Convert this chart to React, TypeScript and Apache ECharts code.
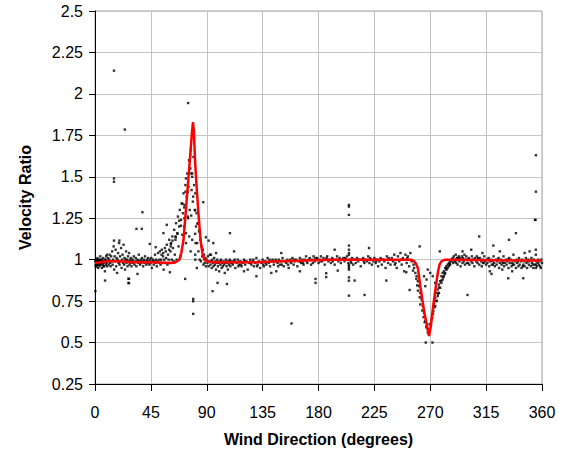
import React, { useEffect, useRef } from "react";
import * as echarts from "echarts";

const xTicks = [0, 45, 90, 135, 180, 225, 270, 315, 360];
const yTicks = [0.25, 0.5, 0.75, 1, 1.25, 1.5, 1.75, 2, 2.25, 2.5];

const fitX = [0, 5, 10, 20, 30, 40, 50, 60, 64, 66, 68, 69.5, 71.3, 73, 75, 76.6, 78, 78.9, 79.6, 80.7, 82, 83.5, 85, 86.5, 88, 90, 95, 110, 130, 150, 170, 190, 220, 250, 254.7, 257, 258.5, 260, 262, 264, 265.5, 267.5, 269, 270.5, 272.2, 274, 275.5, 276.3, 277.5, 279, 282, 290, 320, 340, 360];
const fitY = [0.98, 0.985, 0.99, 0.99, 0.985, 0.985, 0.985, 0.98, 0.982, 0.99, 1.0, 1.04, 1.12, 1.28, 1.47, 1.62, 1.76, 1.83, 1.78, 1.58, 1.42, 1.26, 1.12, 1.04, 1.0, 0.99, 0.985, 0.985, 0.985, 0.99, 0.995, 1.0, 1.0, 1.0, 1.0, 0.99, 0.975, 0.95, 0.84, 0.74, 0.67, 0.6, 0.54, 0.6, 0.71, 0.81, 0.89, 0.93, 0.97, 0.99, 1.0, 1.0, 0.997, 0.995, 0.995];

const bandA: number[][] = [
  [0.5,0.97],[0.8,1.0],[1,0.98],[1.3,0.96],[1.6,0.99],[2,1.01],[2.2,0.97],[2.5,0.95],[2.8,0.99],[3,0.98],[3.3,1.0],[3.6,0.96],[4,0.99],[4.3,1.02],[4.6,0.97],[5,0.98],[5.3,1.0],[5.6,0.95],[6,0.99],[6.3,0.97],[6.6,1.01],[7,0.98],[7.4,0.96],[7.8,1.0],[8,0.93],[8.3,0.99],[8.7,0.97],[9,1.02],[9.4,0.98],[9.8,0.96],
  [0.2,0.99],[0.6,0.96],[1.1,1.0],[1.8,0.97],[2.6,1.0],[3.8,0.97],[4.8,1.0],[5.8,0.98],[6.8,0.96],[7.6,0.99],[8.9,1.0],[9.6,1.03],
  [10.2,0.99],[10.6,1.01],[11,0.97],[11.4,1.0],[11.8,1.03],[12.2,0.98],[12.6,0.96],[13,1.02],[13.4,0.99],[13.8,1.05],[14.2,0.97],[14.6,1.0],[15,1.08],[15.4,0.94],[15.8,1.02],[16.2,0.99],[16.6,1.06],[17,0.96],[17.4,1.01],[17.8,0.92],[18.2,1.0],[18.6,1.04],[19,0.98],[19.4,1.1],[19.8,0.97],[20.2,1.02],[20.6,0.99],[21,1.07],[21.4,0.95],[21.8,1.0],[22.2,1.03],[22.6,0.98],[23,1.09],[23.4,0.97],[23.8,1.01],[24.2,0.94],[24.6,1.0],[25,1.05],[25.4,0.98],[25.8,1.0],[26.2,0.96],[26.6,1.02],[27,0.99],[27.4,1.04],[27.8,0.97],[28.2,1.0],[28.6,0.98],[29,1.01],[29.4,0.96],[29.8,0.99],
  [30.3,1.0],[30.8,0.98],[31.3,1.02],[31.8,0.97],[32.3,0.99],[32.8,1.01],[33.3,0.96],[33.8,0.99],[34.3,1.0],[34.8,0.98],[35.3,1.03],[35.8,0.99],[36.3,0.97],[36.8,1.0],[37.3,0.98],[37.8,1.01],[38.3,0.99],[38.8,0.96],[39.3,1.0],[39.8,0.98],[40.3,1.02],[40.8,0.99],[41.3,0.97],[41.8,1.0],[42.3,0.98],[42.8,1.01],[43.3,0.99],[43.8,0.97],[44.3,1.0],[44.8,0.98],[45.3,1.01],[45.8,0.95],[46.3,0.99],[46.8,1.0],[47.3,0.97],[47.8,0.99],[48.3,1.03],[48.8,0.98],[49.3,1.0],[49.8,0.96],[50.3,0.99],[50.8,1.04],[51.3,0.98],[51.8,1.0],[52.3,1.05],[52.8,0.97],[53.3,1.0],[53.8,1.06],[54.3,0.98],[54.8,1.02],[55.3,0.94],[55.8,1.0],[56.3,1.07],[56.8,0.98],[57.3,1.01],[57.8,1.09],[58.3,0.97],[58.8,1.03],[59.3,1.0],[59.8,1.12],
  [60.3,0.98],[60.8,1.05],[61.3,1.1],[61.8,1.0],[62.3,1.14],[62.8,1.07],[63.3,0.99],[63.8,1.18],[64.3,1.03],[64.8,1.12],[65.3,1.22],[65.8,1.0],[66.3,1.16],[66.8,1.26],[67.3,1.08],[67.8,1.2],[68.3,1.3],[68.8,1.02],[69.3,1.24],[69.8,1.34],[70.3,1.15],[70.8,1.28],[71.3,1.4],[71.8,1.2],[72.3,1.33],[72.8,1.45],[73.3,1.1],[73.8,1.38],[74.3,1.52],[74.8,1.26],[75.3,1.44],[75.8,1.6],[76.3,1.3],[76.8,1.55],[77.3,1.66],[77.8,1.42],[78.3,1.5],[78.8,1.35],[79.3,1.62],[79.8,1.45],[80.3,1.3],[80.8,1.4],[81.3,1.2],[81.8,1.28],[82.3,1.1],[82.8,1.22],[83.3,1.05],[83.8,1.17],[84.3,1.0],[84.8,1.12],[85.3,0.99],[85.8,1.08],[86.3,1.02],[86.8,1.06],[87.3,0.97],[87.8,1.03],[88.3,0.98],[88.8,1.01],[89.3,0.96],[89.8,1.0],
  [77,1.05],[80.8,1.0],[82,0.95],[78.3,1.12],[75.9,1.14],[73.3,1.16],[81,1.1],[80.7,1.03]
];

const bandB: number[][] = [
  [90.5,0.98],[91,1.02],[91.5,0.96],[92,0.99],[92.5,1.03],[93,0.97],[93.5,0.99],[94,0.95],[94.5,1.0],[95,0.98],[95.5,0.96],[96,1.01],[96.5,0.97],[97,0.99],[97.5,0.94],[98,0.98],[98.5,1.0],[99,0.96],[99.5,0.98],[100,0.93],[100.5,0.99],[101,0.97],[101.5,1.0],[102,0.95],[102.5,0.98],[103,0.96],[103.5,0.99],[104,0.97],[104.5,0.92],[105,0.98],[105.5,1.0],[106,0.96],[106.5,0.98],[107,0.94],[107.5,0.99],[108,0.97],[108.5,1.0],[109,0.96],[109.5,0.98],[110,0.99],
  [111,0.97],[112,0.99],[113,0.95],[114,0.98],[115,1.0],[116,0.97],[117,0.99],[118,0.96],[119,0.98],[120,1.0],[121,0.97],[122,0.99],[123,0.94],[124,0.98],[125,1.0],[126,0.97],[127,0.99],[128,0.96],[129,0.98],[130,1.01],[131,0.97],[132,0.99],[133,0.95],[134,0.98],[135,1.0],[136,0.96],[137,0.99],[138,0.97],[139,1.01],[140,0.98],[141,0.96],[142,0.99],[143,1.0],[144,0.97],[145,0.99],[146,0.93],[147,0.98],[148,1.0],[149,0.97],[150,0.99],[151,1.01],[152,0.96],[153,0.99],[154,0.98],[155,1.0],[156,0.95],[157,0.99],[158,0.98],[159,1.01],[160,0.97],[161,0.99],[162,1.0],[163,0.96],[164,0.99],[165,1.01],[166,0.98],[167,1.0],[168,0.97],[169,1.0],[170,1.02],[171,0.98],[172,1.0],[173,1.01],[174,0.97],[175,1.0],[176,1.02],[177,0.99],[178,1.0],[179,1.01],[180,0.98],
  [110.5,0.98],[115.5,0.96],[120.5,0.99],[125.5,0.98],[130.5,0.96],[135.5,0.97],[140.5,1.0],[145.5,1.0],[150.5,0.97],[155.5,0.97],[160.5,1.0],[165.5,0.99],[170.5,0.99],[175.5,0.98],[112.5,1.0],[117.5,0.97],[127.5,1.0],[137.5,0.98],[147.5,0.96],[157.5,1.0],[167.5,0.98],[177.5,1.01],
  [181,1.0],[182,1.02],[183,0.99],[184,1.01],[185,0.97],[186,1.0],[187,1.02],[188,0.99],[189,1.0],[190,0.98],[191,1.01],[192,1.0],[193,0.97],[194,1.0],[195,1.02],[196,0.99],[197,1.01],[198,0.98],[199,1.0],[200,1.01],[201,0.99],[202,1.0],[203,1.02],[204,0.98],[204.5,0.96],[204.5,0.95],[204.5,0.97],[204.5,0.94],[204.5,1.03],[205,1.0],[206,0.99],[207,1.01],[208,0.97],[209,1.0],[210,0.98],[211,1.01],[212,0.99],[213,1.0],[214,0.96],[215,1.0],[216,1.01],[217,0.98],[218,1.0],[219,0.99],[220,1.02],[221,0.98],[222,1.0],[223,0.97],[224,0.99],[225,1.01],[226,0.98],[227,1.0],[228,0.96],[229,0.99],[230,1.01],[231,0.97],[232,1.0],[233,0.99],[234,0.95],[235,1.02],[236,0.98],[237,1.0],[238,0.97],[239,1.01],[240,0.99],[241,1.03],[242,0.98],[243,0.95],[244,1.02],[245,0.99],[246,1.04],[247,0.97],[248,1.01],[249,0.93],[250,1.03],[251,0.98],[252,1.02],[253,0.96],[254,1.04],[255,0.99],
  [181.5,0.99],[186.5,1.01],[191.5,0.99],[196.5,1.0],[201.5,1.01],[206.5,0.98],[211.5,1.0],[216.5,0.99],[221.5,1.01],[226.5,0.99],[231.5,1.0],[236.5,1.01],[241.5,0.97],[246.5,1.0],[251.5,1.01]
];

const bandC: number[][] = [
  [256.5,0.97],[257,0.95],[258,0.92],[259,0.9],[260,0.87],[261,0.84],[262,0.8],[263,0.76],[264,0.72],[265,0.68],[266,0.63],[267,0.6],[268,0.56],[269.5,0.57],[270.5,0.6],[271.5,0.65],[272.5,0.69],[273,0.73],[274,0.77],[275,0.8],[276,0.82],[277,0.85],[278,0.87],[279,0.9],[280,0.92],[281,0.93],[282,0.95],[283,0.96],[284,0.97],[285,0.98],[286,0.99],[287,1.0],
  [274,0.72],[275,0.75],[276,0.78],[277,0.8],[278,0.83],[279,0.86],[280,0.88],[281,0.9],[282,0.92],[283,0.94],[284,0.95],[285,0.96],[286,0.97],
  [265,0.9],[267,0.88],[270,0.92],[272,0.9],[274,0.86],[268,0.94],[266,0.84],
  [253.4,0.817],[250.7,0.924],[256.1,0.934],[258.8,0.884],[259.5,0.845],[260.1,0.813],[261.5,0.773],[262,0.73],[263.6,0.693],[264.7,0.653],[265.5,0.623],[266.8,0.592],[268.2,0.58],[266.4,0.5],[271.8,0.5],[269.5,0.612],[271.1,0.64],[272.2,0.673],[273.5,0.713],[275,0.753],[276.3,0.793],[277.1,0.833],[279,0.874],[280.4,0.894],[281.7,0.914],[283,0.944],[285.7,0.974],[287.1,0.99],
  [288,1.01],[288.5,0.98],[289,1.02],[289.5,0.99],[290,1.0],[290.5,1.03],[291,0.98],[291.5,1.01],[292,0.97],[292.5,1.0],[293,1.02],[293.5,0.99],[294,1.01],[294.5,0.96],[295,1.0],[295.5,1.02],[296,0.98],[296.5,1.01],[297,0.99],[297.5,1.03],[298,0.97],[298.5,1.0],[299,1.02],[299.5,0.98],[300,1.0],[301,1.01],[301.5,0.97],[302,1.0],[303,0.99],[303.5,1.02],[304,0.98],[305,1.0],[305.5,0.96],[306,1.01],[307,0.99],[307.5,1.02],[308,0.98],[309,1.0],[309.5,0.97],[310,1.01],[311,0.99],[311.5,0.96],[312,1.0],[313,0.98],[313.5,1.02],[314,0.99],[315,0.97],[315.5,1.0],[316,0.98],[317,1.01],[317.5,0.96],[318,0.99],[319,1.0],[319.5,0.97],[320,0.99],[321,1.02],[321.5,0.98],[322,0.96],[323,1.0],[323.5,0.97],[324,0.99],[325,1.01],[325.5,0.95],[326,0.98],[327,1.0],[327.5,0.97],[328,0.99],[329,1.02],[329.5,0.96],[330,0.98],[331,1.0],[331.5,0.97],[332,0.99],[333,0.95],[333.5,1.01],[334,0.98],[335,1.0],[335.5,0.96],[336,0.98],[337,1.03],[337.5,0.97],[338,0.99],[339,0.95],[339.5,1.0],[340,0.98],[341,0.96],[341.5,1.01],[342,0.97],[343,0.99],[343.5,0.95],[344,1.0],[345,0.97],[345.5,0.99],[346,0.96],[347,1.01],[347.5,0.98],[348,0.95],[349,1.0],[349.5,0.97],[350,0.99],[351,0.96],[351.5,1.01],[352,0.98],[353,0.95],[353.5,1.0],[354,0.97],[355,1.06],[355,1.03],[355,0.97],[355,0.95],[355.5,0.99],[356,0.96],[357,1.0],[357.5,0.97],[358,0.99],[359,0.95],[359.5,1.0],[360,0.98],
  [290.2,0.99],[292.2,1.01],[296.2,1.0],[300.5,0.98],[304.5,1.0],[308.5,1.01],[312.5,0.98],[316.5,1.0],[320.5,0.97],[324.5,1.0],[328.5,0.98],[332.5,1.0],[336.5,0.97],[340.5,0.99],[344.5,0.96],[348.5,0.99],[352.5,0.97],[356.5,0.98],[358.5,0.96]
];

const outliers: number[][] = [
  [0.3,0.81],[8.1,0.874],[26.9,0.86],[26.9,0.885],[38.2,1.286],[33.4,1.186],[37.7,1.186],[15.3,1.115],[19.6,1.115],[57.8,1.21],[55.1,1.16],[44.1,1.095],[48.9,1.075],
  [15.3,2.14],[24,1.785],[15.3,1.49],[15.3,1.47],[75,1.945],[87.2,1.347],[108.7,1.16],[79.1,0.763],[79.1,0.749],[79.1,0.673],[72.6,0.884],[94.7,0.81],[98.7,0.86],[106.2,0.853],
  [27.4,0.884],[27.4,0.858],[34.2,0.914],[60.3,0.924],
  [76.7,1.63],[75.9,1.6],[77.5,1.52],[78.3,1.52],[73.2,1.49],[74.8,1.41],[72.9,1.41],[79.1,1.38],[70.5,1.336],[71.8,1.315],[80.7,1.297],[77.5,1.266],[72,1.25],[75,1.25],[82.6,1.216],[80.7,1.156],[84,1.176],[69.2,1.205],[66.5,1.156],[64.8,1.14],[62.4,1.115],[61,1.08],[59.7,1.06],[57,1.05],[55,1.04],[53.6,1.03],
  [89.3,1.135],[91.5,1.115],[95.3,1.1],[97.5,1.04],[93.4,1.03],[67.8,1.235],[65.1,1.135],[61,1.095],
  [204.5,1.33],[204.5,1.32],[204.5,1.27],[204.5,1.085],[204.5,1.06],[204.5,1.04],[204.5,0.893],[204.5,0.873],[204.5,0.783],
  [177.6,0.884],[177.6,0.86],[186.2,0.918],[186.2,0.895],[217.1,0.787],[234.6,0.874],[220.7,1.07],[193,1.06],[209.1,0.874],[195.5,0.934],[158.3,0.615],
  [130,0.9],[142,0.92],[120,0.93],[165,0.93],[150,1.04],[112,1.05],
  [261.5,1.08],[277.7,1.05],[300,0.787],[309.4,1.14],[320.8,1.085],[333.4,1.12],[339,1.16],[355.1,1.41],[354.3,1.24],[354.8,1.24],[355.1,1.63],[344.9,0.888],[332.8,0.888],[319.3,0.914],
  [296,1.05],[303,1.06],[312,1.04],[326,1.05],[346,1.04],[350,1.05],[318,0.93],[336,0.93],[328,0.94]
];

const App: React.FC = () => {
  const ref = useRef<HTMLDivElement>(null);
  useEffect(() => {
    if (!ref.current) return;
    const chart = echarts.init(ref.current, undefined, { renderer: "svg" });
    const font = "'Liberation Sans', Arial, sans-serif";
    const scatterData = [...bandA, ...bandB, ...bandC, ...outliers];
    const lineData = fitX.map((x, i) => [x, fitY[i]]);
    chart.setOption({
      animation: false,
      backgroundColor: "#ffffff",
      grid: {
        left: 95,
        right: 25,
        top: 11,
        bottom: 71,
        show: true,
        borderColor: "#a6a6a6",
        borderWidth: 1,
      },
      xAxis: {
        type: "value",
        min: xTicks[0],
        max: xTicks[xTicks.length - 1],
        interval: 45,
        name: "Wind Direction (degrees)",
        nameLocation: "middle",
        nameGap: 47,
        nameTextStyle: { fontFamily: font, fontSize: 16, fontWeight: "bold", color: "#000" },
        axisLine: { show: true, lineStyle: { color: "#000", width: 1 } },
        axisTick: { show: true, length: 7, lineStyle: { color: "#000" } },
        axisLabel: { fontFamily: font, fontSize: 16, color: "#000", margin: 20 },
        splitLine: { show: true, lineStyle: { color: "#c4c4c4", width: 1 } },
      },
      yAxis: {
        type: "value",
        min: yTicks[0],
        max: yTicks[yTicks.length - 1],
        interval: 0.25,
        name: "Velocity Ratio",
        nameLocation: "middle",
        nameGap: 62,
        nameTextStyle: { fontFamily: font, fontSize: 16, fontWeight: "bold", color: "#000" },
        axisLine: { show: true, lineStyle: { color: "#000", width: 1 } },
        axisTick: { show: true, length: 6, lineStyle: { color: "#000" } },
        axisLabel: { fontFamily: font, fontSize: 16, color: "#000", margin: 12 },
        splitLine: { show: true, lineStyle: { color: "#c4c4c4", width: 1 } },
      },
      series: [
        {
          type: "scatter",
          data: scatterData,
          symbol: "rect",
          symbolSize: 2.4,
          itemStyle: { color: "#000" },
          silent: true,
          z: 2,
        },
        {
          type: "line",
          data: lineData,
          showSymbol: false,
          symbol: "none",
          smooth: false,
          lineStyle: { color: "#ff0000", width: 2.5 },
          silent: true,
          z: 3,
        },
      ],
    });
    return () => chart.dispose();
  }, []);
  return (
    <div
      ref={ref}
      style={{ position: "absolute", left: 0, top: 0, width: 567, height: 455 }}
    />
  );
};

export default App;
